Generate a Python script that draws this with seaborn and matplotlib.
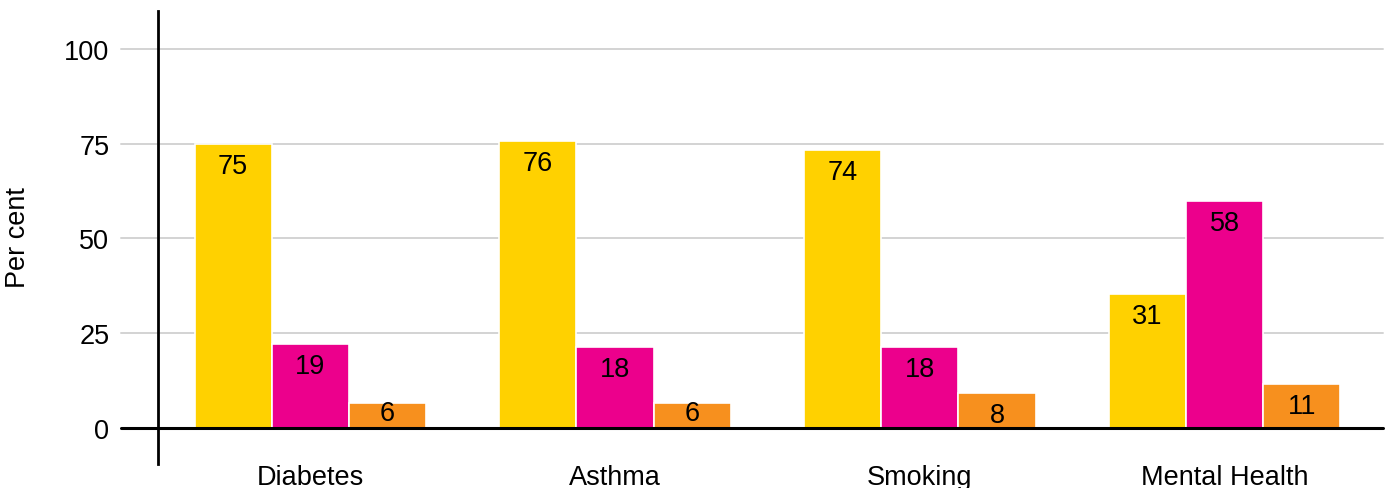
import numpy as np
import pandas as pd
import matplotlib
matplotlib.use("Agg")
import matplotlib.pyplot as plt
import seaborn as sns

# data (bar heights and printed labels differ slightly)
categories = ["Diabetes", "Asthma", "Smoking", "Mental Health"]
series = ["A", "B", "C"]
heights_a = [75.0, 75.8, 73.4, 35.4]
heights_b = [22.0, 21.3, 21.3, 59.8]
heights_c = [6.4, 6.5, 9.2, 11.4]
labels_a = [75, 76, 74, 31]
labels_b = [19, 18, 18, 58]
labels_c = [6, 6, 8, 11]
colors = ["#FFD100", "#EC008C", "#F7901E"]
yticks = [0, 25, 50, 75, 100]

sns.set_theme(style="white")
plt.rcParams["font.family"] = ["Liberation Sans", "DejaVu Sans"]
FS = 19.5

rows = []
for s, hs, ls in zip(series, [heights_a, heights_b, heights_c], [labels_a, labels_b, labels_c]):
    for c, h, l in zip(categories, hs, ls):
        rows.append({"cat": c, "series": s, "value": h, "label": l})
df = pd.DataFrame(rows)

W, H = 1393, 489
fig = plt.figure(figsize=(W / 100, H / 100), dpi=100)
ax = fig.add_axes([158 / W, 1 - 465 / H, (1383 - 158) / W, (465 - 12) / H])

sns.barplot(data=df, x="cat", y="value", hue="series", palette=colors,
            saturation=1, width=0.76, edgecolor="white", linewidth=1.2,
            legend=False, errorbar=None, ax=ax, zorder=3)

ax.set_xlim(-0.5, 3.52)
ax.set_ylim(-9.6, 110)

# gridlines extending left past the axis
for y in yticks[1:]:
    ax.axhline(y, xmin=-(158 - 121) / (1383 - 158), xmax=1, color="#d3d3d3",
               lw=1.4, clip_on=False, zorder=1)
ax.axhline(0, xmin=-(158 - 121) / (1383 - 158), xmax=1, color="black",
           lw=2.2, clip_on=False, zorder=4)

for sp in ["top", "right", "bottom"]:
    ax.spines[sp].set_visible(False)
ax.spines["left"].set_color("black")
ax.spines["left"].set_linewidth(2)

ax.set_yticks(yticks)
ax.tick_params(axis="y", length=0, pad=35, labelsize=FS, labelcolor="black")
ax.tick_params(axis="x", length=0, pad=0, labelsize=FS, labelcolor="black")
ax.set_xlabel("")
ax.set_ylabel("")

# value labels inside top of bars
label_lists = [labels_a, labels_b, labels_c]
for cont, labs in zip(ax.containers, label_lists):
    for bar, lab in zip(cont, labs):
        x = bar.get_x() + bar.get_width() / 2
        h = bar.get_height()
        px = h * (465 - 12) / (110 + 9.6)
        if px < 32:
            ax.annotate(str(lab), (x, 0), xytext=(0, 1), textcoords="offset points",
                        ha="center", va="bottom", fontsize=FS, color="black", zorder=5)
        else:
            ax.annotate(str(lab), (x, h), xytext=(0, -6.5), textcoords="offset points",
                        ha="center", va="top", fontsize=FS, color="black", zorder=5)

fig.text(18 / W, 1 - 238 / H, "Per cent", rotation=90, ha="center", va="center",
         fontsize=FS, color="black")

fig.savefig("out.png", dpi=100)
